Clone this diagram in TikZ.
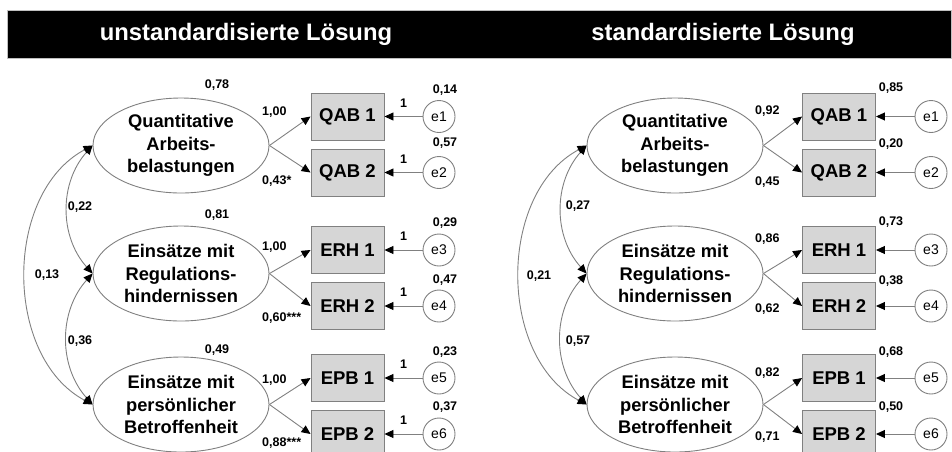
\documentclass[tikz,border=0pt]{standalone}
\usepackage{fontspec}
\setmainfont{Liberation Sans}
\usetikzlibrary{shapes.geometric,arrows.meta}

\definecolor{linegray}{HTML}{808080}
\definecolor{boxfill}{HTML}{D6D6D6}

\tikzset{
  factor/.style={ellipse, draw=linegray, line width=0.9pt, fill=white,
    minimum width=176pt, minimum height=95pt, inner sep=0pt, align=center,
    font=\fontsize{18.3}{22.5}\selectfont\bfseries},
  item/.style={rectangle, draw=linegray, line width=0.9pt, fill=boxfill,
    minimum width=73pt, minimum height=47pt, inner sep=0pt,
    font=\fontsize{18.5}{20}\selectfont\bfseries},
  err/.style={circle, draw=linegray, line width=0.9pt, fill=white,
    minimum size=32pt, inner sep=0pt, font=\fontsize{14}{16}\selectfont},
  est/.style={inner sep=0pt, font=\fontsize{12.5}{14}\selectfont\bfseries},
  loadlab/.style={est, anchor=west},
  path/.style={draw=linegray, line width=0.9pt,
    -{Triangle[length=9pt,width=8pt,color=black]}},
  cov/.style={draw=linegray, line width=0.9pt,
    {Triangle[length=9pt,width=8pt,color=black]}-{Triangle[length=9pt,width=8pt,color=black]}},
  one/.style={midway, above=9pt, inner sep=0pt, font=\fontsize{12.5}{14}\selectfont\bfseries},
  titletext/.style={text=white, inner sep=0pt,
    font=\fontsize{23.8}{26}\selectfont\bfseries}
}

\begin{document}
\begin{tikzpicture}[x=1pt,y=-1pt]
\useasboundingbox (0,0) rectangle (952,451);
\clip (0,0) rectangle (952,451);

% heading bar
\node[fill=black, draw=gray!50, minimum width=944pt, minimum height=48pt, inner sep=0pt]
  (bar) at (479,34) {};
\node[titletext] (titleL) at (246,34) {unstandardisierte Lösung};
\node[titletext] (titleR) at (723,34) {standardisierte Lösung};

% ---------- left panel: unstandardised estimates ----------
\node[factor] (LF1) at (181,145.5) {Quantitative\\Arbeits-\\belastungen};
\node[factor] (LF2) at (181,273.5) {Einsätze mit\\Regulations-\\hindernissen};
\node[factor] (LF3) at (181,404.5) {Einsätze mit\\persönlicher\\Betroffenheit};

\node[item] (LQAB1) at (347.5,116.5) {QAB 1};
\node[item] (LQAB2) at (347.5,172.5) {QAB 2};
\node[item] (LERH1) at (347.5,250) {ERH 1};
\node[item] (LERH2) at (347.5,306) {ERH 2};
\node[item] (LEPB1) at (347.5,378) {EPB 1};
\node[item] (LEPB2) at (347.5,434) {EPB 2};

\node[err] (Le1) at (439,116.5) {e1};
\node[err] (Le2) at (439,172.5) {e2};
\node[err] (Le3) at (439,250) {e3};
\node[err] (Le4) at (439,306) {e4};
\node[err] (Le5) at (439,378) {e5};
\node[err] (Le6) at (439,434) {e6};

\draw[path] (LF1.east) -- (LQAB1.west);
\draw[path] (LF1.east) -- (LQAB2.west);
\draw[path] (LF2.east) -- (LERH1.west);
\draw[path] (LF2.east) -- (LERH2.west);
\draw[path] (LF3.east) -- (LEPB1.west);
\draw[path] (LF3.east) -- (LEPB2.west);

\draw[path] (Le1) -- node[one] {1} (LQAB1);
\draw[path] (Le2) -- node[one] {1} (LQAB2);
\draw[path] (Le3) -- node[one] {1} (LERH1);
\draw[path] (Le4) -- node[one] {1} (LERH2);
\draw[path] (Le5) -- node[one] {1} (LEPB1);
\draw[path] (Le6) -- node[one] {1} (LEPB2);

\draw[cov] (LF1.west) to[bend right=42] (LF2.west);
\draw[cov] (LF2.west) to[bend right=42] (LF3.west);
\draw[cov] (LF1.west) to[bend right=62] (LF3.west);

\node[est] (Lv1) at (217,85) {0,78};
\node[est] (Lv2) at (217,215) {0,81};
\node[est] (Lv3) at (217,350) {0,49};

\node[loadlab] (Ll1) at (262,112) {1,00};
\node[loadlab] (Ll2) at (262,181) {0,43*};
\node[loadlab] (Ll3) at (262,247) {1,00};
\node[loadlab] (Ll4) at (262,318) {0,60***};
\node[loadlab] (Ll5) at (262,380) {1,00};
\node[loadlab] (Ll6) at (262,443) {0,88***};

\node[est] (Lr1) at (445,90) {0,14};
\node[est] (Lr2) at (445,143) {0,57};
\node[est] (Lr3) at (445,223) {0,29};
\node[est] (Lr4) at (445,280) {0,47};
\node[est] (Lr5) at (445,352) {0,23};
\node[est] (Lr6) at (445,407) {0,37};

\node[est] (Lc12) at (80,207) {0,22};
\node[est] (Lc13) at (47,275) {0,13};
\node[est] (Lc23) at (80,341) {0,36};

% ---------- right panel: standardised estimates ----------
\node[factor] (RF1) at (675,145.5) {Quantitative\\Arbeits-\\belastungen};
\node[factor] (RF2) at (675,273.5) {Einsätze mit\\Regulations-\\hindernissen};
\node[factor] (RF3) at (675,404.5) {Einsätze mit\\persönlicher\\Betroffenheit};

\node[item] (RQAB1) at (839,116.5) {QAB 1};
\node[item] (RQAB2) at (839,172.5) {QAB 2};
\node[item] (RERH1) at (839,250) {ERH 1};
\node[item] (RERH2) at (839,306) {ERH 2};
\node[item] (REPB1) at (839,378) {EPB 1};
\node[item] (REPB2) at (839,434) {EPB 2};

\node[err] (Re1) at (931,116.5) {e1};
\node[err] (Re2) at (931,172.5) {e2};
\node[err] (Re3) at (931,250) {e3};
\node[err] (Re4) at (931,306) {e4};
\node[err] (Re5) at (931,378) {e5};
\node[err] (Re6) at (931,434) {e6};

\draw[path] (RF1.east) -- (RQAB1.west);
\draw[path] (RF1.east) -- (RQAB2.west);
\draw[path] (RF2.east) -- (RERH1.west);
\draw[path] (RF2.east) -- (RERH2.west);
\draw[path] (RF3.east) -- (REPB1.west);
\draw[path] (RF3.east) -- (REPB2.west);

\draw[path] (Re1) -- (RQAB1);
\draw[path] (Re2) -- (RQAB2);
\draw[path] (Re3) -- (RERH1);
\draw[path] (Re4) -- (RERH2);
\draw[path] (Re5) -- (REPB1);
\draw[path] (Re6) -- (REPB2);

\draw[cov] (RF1.west) to[bend right=42] (RF2.west);
\draw[cov] (RF2.west) to[bend right=42] (RF3.west);
\draw[cov] (RF1.west) to[bend right=62] (RF3.west);

\node[loadlab] (Rl1) at (755,111) {0,92};
\node[loadlab] (Rl2) at (755,182) {0,45};
\node[loadlab] (Rl3) at (755,239) {0,86};
\node[loadlab] (Rl4) at (755,309) {0,62};
\node[loadlab] (Rl5) at (755,373) {0,82};
\node[loadlab] (Rl6) at (755,437) {0,71};

\node[est] (Rr1) at (891,88) {0,85};
\node[est] (Rr2) at (891,144) {0,20};
\node[est] (Rr3) at (891,222) {0,73};
\node[est] (Rr4) at (891,281) {0,38};
\node[est] (Rr5) at (891,352) {0,68};
\node[est] (Rr6) at (891,407) {0,50};

\node[est] (Rc12) at (578,206) {0,27};
\node[est] (Rc13) at (539,276) {0,21};
\node[est] (Rc23) at (578,341) {0,57};
\end{tikzpicture}
\end{document}
